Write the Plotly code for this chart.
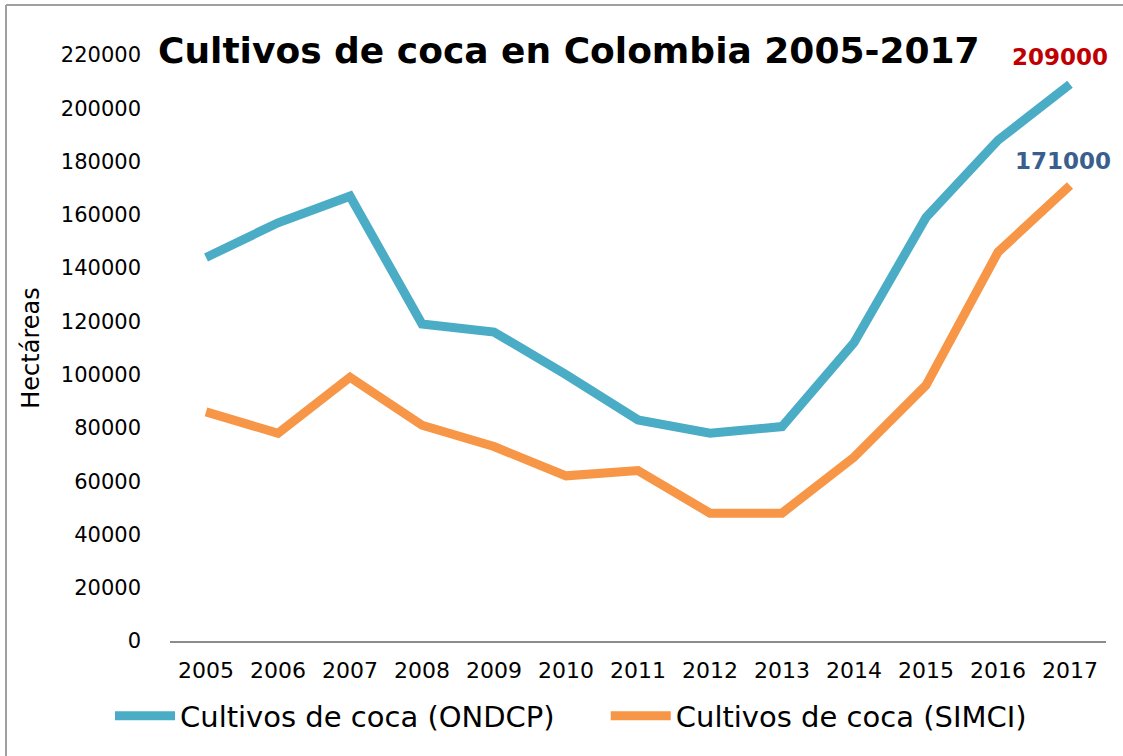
import plotly.graph_objects as go

years = [2005, 2006, 2007, 2008, 2009, 2010, 2011, 2012, 2013, 2014, 2015, 2016, 2017]
ondcp = [144000, 157000, 167000, 119000, 116000, 100000, 83000, 78000, 80500, 112000, 159000, 188000, 209000]
simci = [86000, 78000, 99000, 81000, 73000, 62000, 64000, 48000, 48000, 69000, 96000, 146000, 171000]
y_ticks = list(range(0, 220001, 20000))
series_names = ["Cultivos de coca (ONDCP)", "Cultivos de coca (SIMCI)"]

FONT = "DejaVu Sans, sans-serif"
PAD = "\u00a0" * 5

fig = go.Figure()
fig.add_trace(go.Scatter(x=years, y=ondcp, mode="lines", name=series_names[0] + PAD,
                         line=dict(color="#4BACC6", width=9)))
fig.add_trace(go.Scatter(x=years, y=simci, mode="lines", name=series_names[1],
                         line=dict(color="#F79646", width=9)))

L, R, T, B = 170, 17, 55, 115
W, H = 1123, 756
pw, ph = W - L - R, H - T - B

fig.update_layout(
    width=W, height=H,
    margin=dict(l=L, r=R, t=T, b=B),
    paper_bgcolor="white", plot_bgcolor="white",
    font=dict(family=FONT, color="black"),
    showlegend=True,
    legend=dict(orientation="h", x=(571 - L) / pw, xanchor="center",
                y=(641 - 716) / ph, yanchor="middle",
                font=dict(size=29, family=FONT), itemwidth=60, traceorder="normal"),
    xaxis=dict(range=[2004.5, 2017.5], tickvals=years, ticktext=[str(y) for y in years],
               showgrid=False, zeroline=False, showline=True, linecolor="#8c8c8c", linewidth=2,
               ticks="", tickfont=dict(size=22), ticklabelstandoff=9),
    yaxis=dict(range=[0, 220000], tickvals=y_ticks, ticktext=[str(v) for v in y_ticks],
               showgrid=False, zeroline=False, showline=False, ticks="",
               tickfont=dict(size=21), ticklabelstandoff=28,
               title=dict(text="Hectáreas", font=dict(size=24), standoff=14)),
)

fig.add_annotation(text="<b>Cultivos de coca en Colombia 2005-2017</b>", xref="paper", yref="paper",
                   x=(569 - L) / pw, y=1 + (T - 51) / ph, xanchor="center", yanchor="middle",
                   showarrow=False, font=dict(size=36, family=FONT, color="black"))
fig.add_annotation(text="<b>209000</b>", x=years[-1], y=ondcp[-1], xref="x", yref="y",
                   showarrow=False, xshift=-10, yshift=27, font=dict(size=23, color="#C00000", family=FONT))
fig.add_annotation(text="<b>171000</b>", x=years[-1], y=simci[-1], xref="x", yref="y",
                   showarrow=False, xshift=-7, yshift=25, font=dict(size=23, color="#3A5F8F", family=FONT))

bx = (6 - L) / pw
by_top = 1 + (T - 5) / ph
by_bot = (641 - 760) / ph
fig.add_shape(type="line", xref="paper", yref="paper", x0=bx, x1=bx, y0=by_bot, y1=by_top,
              line=dict(color="#a0a0a0", width=2))
fig.add_shape(type="line", xref="paper", yref="paper", x0=bx, x1=(W + 5 - L) / pw, y0=by_top, y1=by_top,
              line=dict(color="#a0a0a0", width=2))

fig.write_html("out.html")
